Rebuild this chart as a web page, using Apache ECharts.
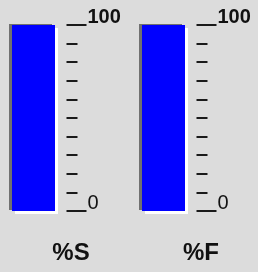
<!DOCTYPE html>
<html><head><meta charset="utf-8">
<script src="https://cdn.jsdelivr.net/npm/echarts@6/dist/echarts.min.js"></script>
<style>html,body{margin:0;padding:0;background:#dcdcdc;}#c{width:258px;height:272px;}</style>
</head><body><div id="c"></div>
<script>
const categories = ['%S', '%F'];
const values = [100, 100];
const axisMin = 0;
const axisMax = 100;
const minorDivisions = 10;

const chart = echarts.init(document.getElementById('c'), null, {renderer: 'canvas'});
const grids = [], xAxes = [], yAxes = [], series = [];
categories.forEach((cat, i) => {
  const left = 12 + i * 130;
  grids.push({left: left, top: 25, width: 43, height: 186});
  xAxes.push({
    type: 'category', gridIndex: i, data: [cat],
    axisLine: {show: false}, axisTick: {show: false},
    axisLabel: {margin: 30, color: '#111', fontFamily: 'Liberation Sans', fontWeight: 'bold', fontSize: 24, padding: [0, 0, 0, 75]}
  });
  yAxes.push({
    type: 'value', gridIndex: i, min: axisMin, max: axisMax, interval: axisMax - axisMin,
    position: 'right', offset: 11.5,
    axisLine: {show: false},
    splitLine: {show: false},
    axisTick: {show: true, inside: false, length: 20, lineStyle: {color: '#1a1a1a', width: 2}},
    minorTick: {show: true, splitNumber: minorDivisions, length: 11, lineStyle: {color: '#1a1a1a', width: 2}},
    minorSplitLine: {show: false},
    axisLabel: {
      margin: 21, verticalAlign: 'bottom', lineHeight: 16,
      formatter: v => v === axisMax ? '{b|' + v + '}' : '{n|' + v + '}',
      rich: {
        b: {fontFamily: 'Liberation Sans', fontWeight: 'bold', fontSize: 20, color: '#111', lineHeight: 16},
        n: {fontFamily: 'Liberation Sans', fontWeight: 'normal', fontSize: 20, color: '#111', lineHeight: 16}
      }
    }
  });
  // frame (white bottom/right edge)
  series.push({
    type: 'bar', xAxisIndex: i, yAxisIndex: i, data: [values[i]], barWidth: '100%', z: 1, silent: true,
    itemStyle: {color: '#808080', shadowColor: '#ffffff', shadowOffsetX: 3, shadowOffsetY: 3, shadowBlur: 0}
  });
  series.push({
    type: 'bar', xAxisIndex: i, yAxisIndex: i, data: [values[i]], barWidth: '100%', barGap: '-100%', z: 2,
    itemStyle: {color: '#0000ff', shadowColor: '#707070', shadowOffsetX: -3, shadowOffsetY: -1, shadowBlur: 0}
  });
});
chart.setOption({
  backgroundColor: '#dcdcdc',
  animation: false,
  grid: grids, xAxis: xAxes, yAxis: yAxes, series: series
});
</script></body></html>
